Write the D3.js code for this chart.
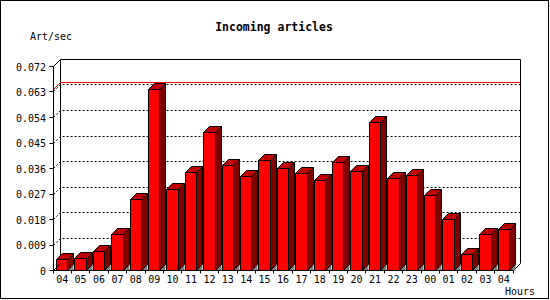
<!DOCTYPE html>
<html>
<head>
<meta charset="utf-8">
<script src="https://cdn.jsdelivr.net/npm/d3@7"></script>
<style>
  body { margin: 0; background: #fff; }
  text { font-family: "DejaVu Sans Mono", "Liberation Mono", monospace; fill: #000; }
</style>
</head>
<body>
<div id="chart"></div>
<script>
/* Chart data */
var hours = ['04', '05', '06', '07', '08', '09', '10', '11', '12', '13', '14', '15', '16',
             '17', '18', '19', '20', '21', '22', '23', '00', '01', '02', '03', '04'];
var artPerSec = [0.0039, 0.0041, 0.0066, 0.0127, 0.0251, 0.0638, 0.0286, 0.0345, 0.0487,
                 0.0371, 0.0332, 0.0389, 0.0359, 0.0342, 0.0317, 0.0381, 0.0349, 0.0522,
                 0.0324, 0.0335, 0.0264, 0.0179, 0.0055, 0.0126, 0.0144];
var yTicks = [0, 0.009, 0.018, 0.027, 0.036, 0.045, 0.054, 0.063, 0.072];

var width = 550, height = 300;
var depth = 7, barDepth = 6;

var svg = d3.select("#chart").append("svg")
    .attr("width", width)
    .attr("height", height);

// outer frame
svg.append("rect")
    .attr("x", 0.5).attr("y", 0.5)
    .attr("width", 548).attr("height", 298)
    .attr("fill", "#fff")
    .attr("stroke", "#000");

var y = d3.scaleLinear().domain([0, 0.072]).range([270.5, 66.5]);
var x = d3.scaleBand()
    .domain(d3.range(hours.length))
    .range([53, 513])
    .paddingInner(0.38)
    .paddingOuter(0.19);

function px(v) { return Math.round(v - 0.5) + 0.5; }

var x0 = 53.5, x1 = 513.5;
var yBase = y(0), yTop = y(0.072);

/* Back wall */
svg.append("path")
    .attr("d", "M" + (x0 + depth) + "," + (yBase - depth) +
               " L" + (x0 + depth) + "," + (yTop - depth) +
               " L" + (x1 + depth) + "," + (yTop - depth) +
               " L" + (x1 + depth) + "," + (yBase - depth))
    .attr("fill", "none")
    .attr("stroke", "#000");

// wall edges (left top corner, floor right corner)
svg.append("path")
    .attr("d", "M" + x0 + "," + yTop + " L" + (x0 + depth) + "," + (yTop - depth) +
               " M" + x1 + "," + yBase + " L" + (x1 + depth) + "," + (yBase - depth))
    .attr("fill", "none")
    .attr("stroke", "#000");

// dashed grid lines on the back wall
svg.append("g").selectAll("path")
    .data(yTicks.filter(function(d) { return d > 0 && d < 0.072; }))
    .enter().append("path")
    .attr("d", function(d) {
        var gy = px(y(d));
        return "M" + x0 + "," + gy + " L" + (x0 + depth) + "," + (gy - depth) +
               " L" + (x1 + depth) + "," + (gy - depth);
    })
    .attr("fill", "none")
    .attr("stroke", "#000")
    .attr("stroke-dasharray", "2,2");

// max line
var maxY = px(y(d3.max(artPerSec)));
svg.append("path")
    .attr("d", "M" + x0 + "," + maxY + " L" + (x0 + depth) + "," + (maxY - depth) +
               " L" + (x1 + depth) + "," + (maxY - depth))
    .attr("fill", "none")
    .attr("stroke", "#ff0000");

/* Bars */
var bars = svg.append("g").selectAll("g")
    .data(artPerSec)
    .enter().append("g");

bars.each(function(d, i) {
    var g = d3.select(this);
    var l = px(x(i)), r = px(x(i) + x.bandwidth()), t = px(y(d)), b = yBase;
    var k = barDepth;

    // floor shadow
    g.append("path")
        .attr("d", "M" + r + "," + b + " L" + (r + k) + "," + (b - k) + " L" + (r + k) + "," + b + "Z")
        .attr("fill", "#808080");
    // side
    g.append("path")
        .attr("d", "M" + r + "," + t + " L" + (r + k) + "," + (t - k) + " L" + (r + k) + "," + (b - k) +
                   " L" + r + "," + b + "Z")
        .attr("fill", "#800000")
        .attr("stroke", "#000")
        .attr("stroke-linejoin", "round");
    // top
    g.append("path")
        .attr("d", "M" + l + "," + t + " L" + (l + k) + "," + (t - k) + " L" + (r + k) + "," + (t - k) +
                   " L" + r + "," + t + "Z")
        .attr("fill", "#c00000")
        .attr("stroke", "#000")
        .attr("stroke-linejoin", "round");
    // front
    g.append("rect")
        .attr("x", l).attr("y", t)
        .attr("width", r - l).attr("height", b - t)
        .attr("fill", "#ff0000")
        .attr("stroke", "#000");
});

/* Front axes */
svg.append("path")
    .attr("d", "M" + x0 + "," + yTop + " L" + x0 + "," + yBase + " L" + x1 + "," + yBase +
               " M" + x0 + "," + yBase + " L" + (x0 + depth) + "," + (yBase - depth))
    .attr("fill", "none")
    .attr("stroke", "#000");

// y ticks and labels
var yAxis = svg.append("g");
yAxis.selectAll("line")
    .data(yTicks).enter().append("line")
    .attr("x1", x0 - 4).attr("x2", x0)
    .attr("y1", function(d) { return px(y(d)); })
    .attr("y2", function(d) { return px(y(d)); })
    .attr("stroke", "#000");
yAxis.selectAll("text")
    .data(yTicks).enter().append("text")
    .attr("x", 46)
    .attr("y", function(d) { return y(d) + 4; })
    .attr("text-anchor", "end")
    .style("font-size", "10px")
    .text(function(d) { return d === 0 ? "0" : d3.format(".3f")(d); });

// x ticks and labels
var step = x.step();
svg.append("g").selectAll("line")
    .data(d3.range(hours.length + 1)).enter().append("line")
    .attr("x1", function(d) { return px(53 + d * step); })
    .attr("x2", function(d) { return px(53 + d * step); })
    .attr("y1", yBase).attr("y2", yBase + 3)
    .attr("stroke", "#000");

svg.append("g").selectAll("text")
    .data(hours).enter().append("text")
    .attr("x", function(d, i) { return x(i) + x.bandwidth() / 2; })
    .attr("y", 283)
    .attr("text-anchor", "middle")
    .style("font-size", "10px")
    .text(function(d) { return d; });

/* Titles */
svg.append("text")
    .attr("x", 274).attr("y", 31)
    .attr("text-anchor", "middle")
    .style("font-size", "11.5px")
    .style("font-weight", "bold")
    .text("Incoming articles");

svg.append("text")
    .attr("x", 30).attr("y", 40)
    .style("font-size", "10px")
    .text("Art/sec");

svg.append("text")
    .attr("x", 505).attr("y", 295)
    .style("font-size", "10px")
    .text("Hours");
</script>
</body>
</html>
